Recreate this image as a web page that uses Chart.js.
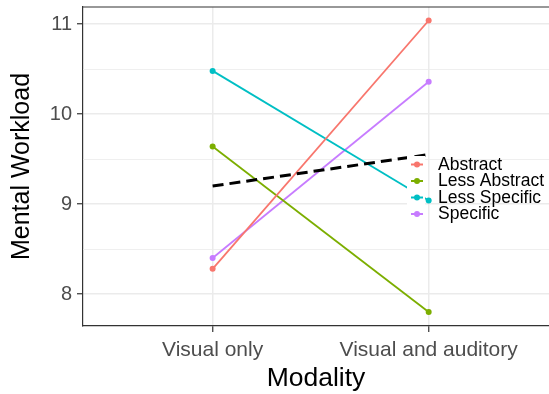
<!DOCTYPE html>
<html>
<head>
<meta charset="utf-8">
<script src="https://cdn.jsdelivr.net/npm/chart.js@4"></script>
<style>
  html, body { margin: 0; padding: 0; background: #fff; }
  #wrap { width: 549px; height: 394px; }
</style>
</head>
<body>
<div id="wrap"><canvas id="chart" width="549" height="394"></canvas></div>
<script>
// Mental workload by modality, one line per abstraction group
const modalities = ['Visual only', 'Visual and auditory'];
const groupNames = ['Abstract', 'Less Abstract', 'Less Specific', 'Specific'];
const groupColors = ['#F8766D', '#7CAE00', '#00BFC4', '#C77CFF'];

const abstractVals = [8.28, 11.04];
const lessAbstractVals = [9.64, 7.80];
const lessSpecificVals = [10.48, 9.04];
const specificVals = [8.40, 10.36];
const meanTrendVals = [9.20, 9.55];

const yMajorTicks = [8, 9, 10, 11];
const yMinorTicks = [8.5, 9.5, 10.5];

const FONT = '"Liberation Sans", Arial, Helvetica, sans-serif';

const toPoints = (vals) => vals.map((v, i) => ({ x: i + 1, y: v }));

const groupSeries = [abstractVals, lessAbstractVals, lessSpecificVals, specificVals];

const datasets = groupSeries.map((vals, i) => ({
  label: groupNames[i],
  data: toPoints(vals),
  borderColor: groupColors[i],
  backgroundColor: groupColors[i],
  borderWidth: 1.8,
  pointRadius: 3,
  pointBorderWidth: 0,
  order: 2,
}));

datasets.push({
  label: 'mean',
  data: toPoints(meanTrendVals),
  borderColor: '#000000',
  borderWidth: 3,
  borderDash: [11, 6],
  pointRadius: 0,
  order: 1,
});

// minor gridlines + top border, drawn under the data
const panelExtras = {
  id: 'panelExtras',
  beforeDatasetsDraw(chart) {
    const { ctx, chartArea, scales } = chart;
    ctx.save();
    ctx.strokeStyle = '#EBEBEB';
    ctx.lineWidth = 0.8;
    yMinorTicks.forEach((v) => {
      const y = Math.round(scales.y.getPixelForValue(v)) + 0.5;
      ctx.beginPath();
      ctx.moveTo(chartArea.left, y);
      ctx.lineTo(chartArea.right, y);
      ctx.stroke();
    });
    ctx.strokeStyle = '#333333';
    ctx.lineWidth = 1.2;
    ctx.beginPath();
    ctx.moveTo(chartArea.left, chartArea.top);
    ctx.lineTo(chartArea.right, chartArea.top);
    ctx.stroke();
    ctx.restore();
  },
};

// ggplot-like legend sitting inside the panel
const insideLegend = {
  id: 'insideLegend',
  afterDatasetsDraw(chart) {
    const { ctx } = chart;
    const textX = 438;
    const firstY = 164.5;
    const step = 16.5;
    ctx.save();
    ctx.fillStyle = '#ffffff';
    ctx.fillRect(407, firstY - 8.5, 18, step * groupNames.length + 1);
    groupNames.forEach((name, i) => {
      const y = firstY + i * step;
      ctx.strokeStyle = groupColors[i];
      ctx.lineWidth = 2;
      ctx.beginPath();
      ctx.moveTo(411, y);
      ctx.lineTo(423, y);
      ctx.stroke();
      ctx.fillStyle = groupColors[i];
      ctx.beginPath();
      ctx.arc(417, y, 3, 0, Math.PI * 2);
      ctx.fill();
      ctx.fillStyle = '#000000';
      ctx.font = '17.5px ' + FONT;
      ctx.textBaseline = 'middle';
      ctx.textAlign = 'left';
      ctx.fillText(name, textX, y + 0.5);
    });
    ctx.restore();
  },
};

// drop the extra label padding Chart.js reserves around the panel
const noScalePadding = (scale) => {
  scale.paddingTop = 0;
  scale.paddingBottom = 0;
  scale.paddingLeft = 0;
  scale.paddingRight = 0;
};

new Chart(document.getElementById('chart').getContext('2d'), {
  type: 'line',
  data: { datasets },
  options: {
    responsive: false,
    animation: false,
    layout: { autoPadding: false, padding: { top: 7, right: 0, left: 0, bottom: 0 } },
    plugins: {
      legend: { display: false },
      tooltip: { enabled: false },
    },
    scales: {
      x: {
        type: 'linear',
        min: 0.4,
        max: 2.557,
        afterBuildTicks: (scale) => {
          scale.ticks = modalities.map((_, i) => ({ value: i + 1 }));
        },
        afterFit: (scale) => {
          scale.height = 68;
          noScalePadding(scale);
        },
        ticks: {
          autoSkip: false,
          maxRotation: 0,
          padding: 6,
          color: '#4D4D4D',
          font: { family: FONT, size: 21 },
          callback: (value) => modalities[value - 1] || '',
        },
        grid: {
          color: '#EBEBEB',
          lineWidth: 1.5,
          tickColor: '#333333',
          tickLength: 6,
          tickWidth: 1.2,
        },
        border: { color: '#333333', width: 1.2 },
        title: {
          display: true,
          text: 'Modality',
          color: '#000000',
          font: { family: FONT, size: 26.5 },
          padding: { top: 0, bottom: -1 },
        },
      },
      y: {
        type: 'linear',
        min: 7.645,
        max: 11.19,
        afterBuildTicks: (scale) => {
          scale.ticks = yMajorTicks.map((v) => ({ value: v }));
        },
        afterFit: (scale) => {
          scale.width = 83;
          noScalePadding(scale);
        },
        ticks: {
          padding: 5,
          color: '#4D4D4D',
          font: { family: FONT, size: 20 },
        },
        grid: {
          color: '#EBEBEB',
          lineWidth: 1.5,
          tickColor: '#333333',
          tickLength: 6,
          tickWidth: 1.2,
        },
        border: { color: '#333333', width: 1.2 },
        title: {
          display: true,
          text: 'Mental Workload',
          color: '#000000',
          font: { family: FONT, size: 25 },
          padding: { top: 7, bottom: 0 },
        },
      },
    },
  },
  plugins: [panelExtras, insideLegend],
});
</script>
</body>
</html>
